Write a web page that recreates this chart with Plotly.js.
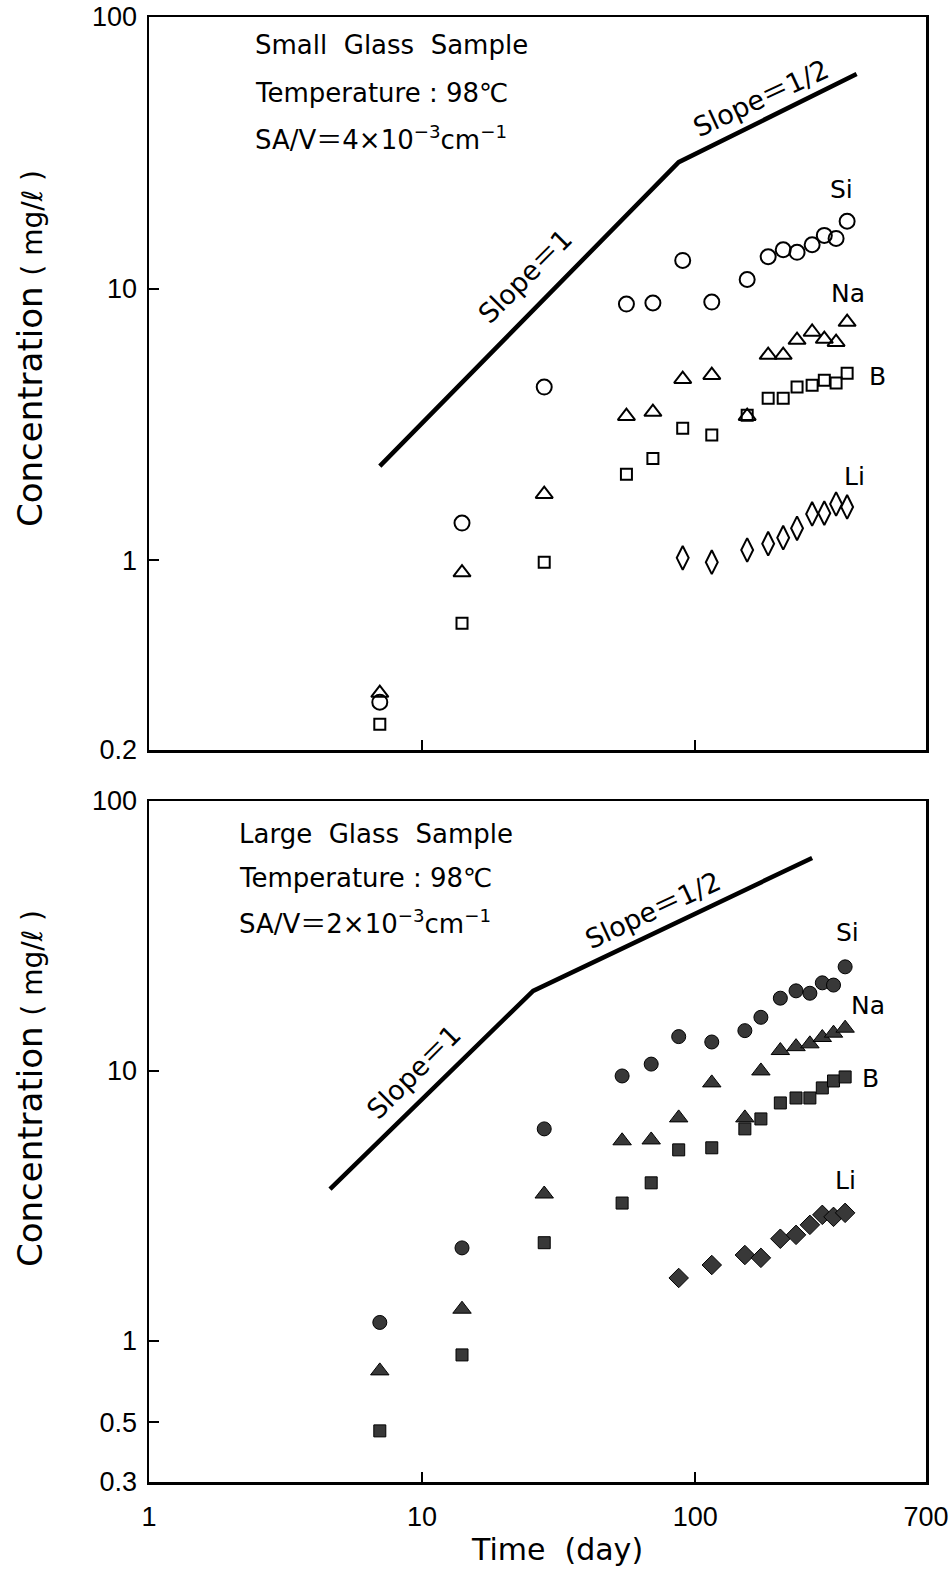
<!DOCTYPE html>
<html>
<head>
<meta charset="utf-8">
<script src="https://cdn.plot.ly/plotly-3.0.1.min.js"></script>
<style>html,body{margin:0;padding:0;background:#fff;}#chart{width:950px;height:1573px;}</style>
</head>
<body>
<div id="chart"></div>
<script>
// ---- Data ----
// Upper panel: small glass sample (open symbols)
const timeSmall = [7, 14, 28, 56, 70, 90, 115, 155, 185, 210, 236, 268, 297, 328, 360];
const siSmall = [0.30, 1.37, 4.34, 8.77, 8.85, 12.7, 8.92, 10.8, 13.1, 13.9, 13.6, 14.5, 15.7, 15.3, 17.7];
const naSmall = [0.324, 0.90, 1.75, 3.39, 3.51, 4.64, 4.80, 3.39, 5.69, 5.69, 6.46, 6.92, 6.52, 6.35, 7.53];
const bSmall  = [0.249, 0.586, 0.983, 2.07, 2.37, 3.06, 2.89, 3.42, 3.95, 3.95, 4.34, 4.41, 4.60, 4.49, 4.88];
const liSmall = [null, null, null, null, null, 1.02, 0.983, 1.09, 1.15, 1.21, 1.31, 1.48, 1.49, 1.61, 1.57];
const slopeSmallT = [7, 87, 390];
const slopeSmallC = [2.22, 29.2, 61.7];

// Lower panel: large glass sample (filled symbols)
const timeLarge = [7, 14, 28, 54, 69, 87, 115, 152, 174, 205, 234, 263, 292, 321, 354];
const siLarge = [1.17, 2.21, 6.10, 9.58, 10.6, 13.4, 12.8, 14.1, 15.8, 18.6, 19.8, 19.4, 21.2, 20.8, 24.3];
const naLarge = [0.774, 1.31, 3.50, 5.51, 5.55, 6.70, 9.03, 6.70, 10.0, 11.9, 12.3, 12.6, 13.3, 13.8, 14.4];
const bLarge  = [0.464, 0.887, 2.31, 3.24, 3.85, 5.10, 5.19, 6.10, 6.64, 7.61, 7.94, 7.94, 8.65, 9.18, 9.50];
const liLarge = [null, null, null, null, null, 1.71, 1.91, 2.08, 2.03, 2.39, 2.47, 2.69, 2.93, 2.88, 2.98];
const slopeLargeT = [4.6, 25.5, 268];
const slopeLargeC = [3.65, 19.8, 61.5];

// Axis ticks
const xTickVals = [1, 10, 100, 700];
const xTickText = ['1', '10', '100', '700'];
const ySmallTickVals = [0.2, 1, 10, 100];
const ySmallTickText = ['0.2', '1', '10', '100'];
const yLargeTickVals = [0.3, 0.5, 1, 10, 100];
const yLargeTickText = ['0.3', '0.5', '1', '10', '100'];

// ---- Styling / layout ----
const W = 950, H = 1573;
const M = {l: 149, r: 24, t: 17, b: 91};
const plotW = W - M.l - M.r, plotH = H - M.t - M.b;
const px = x => (x - M.l) / plotW;           // pixel -> paper (x)
const py = y => (H - M.b - y) / plotH;         // pixel -> paper (y)

const TXT = 'DejaVu Sans, Noto Sans CJK JP, sans-serif';
const TICK = 'Liberation Sans, Arial, sans-serif';

function openTrace(x, y, symbol, size, ax) {
  return {x, y, mode: 'markers', type: 'scatter', xaxis: ax[0], yaxis: ax[1],
    marker: {symbol, size, color: 'black', line: {color: 'black', width: 2}}, hoverinfo: 'skip'};
}
function filledTrace(x, y, symbol, size, ax) {
  return {x, y, mode: 'markers', type: 'scatter', xaxis: ax[0], yaxis: ax[1],
    marker: {symbol, size, color: '#383838', line: {color: '#000', width: 1}}, hoverinfo: 'skip'};
}

const axTop = ['x', 'y'], axBot = ['x2', 'y2'];
const data = [
  {x: slopeSmallT, y: slopeSmallC, mode: 'lines', xaxis: 'x', yaxis: 'y', line: {color: 'black', width: 4.5}, hoverinfo: 'skip'},
  openTrace(timeSmall, siSmall, 'circle-open', 15, axTop),
  openTrace(timeSmall, naSmall, 'triangle-up-open', 15, axTop),
  openTrace(timeSmall, bSmall, 'square-open', 11, axTop),
  openTrace(timeSmall, liSmall, 'diamond-tall-open', 17, axTop),
  {x: slopeLargeT, y: slopeLargeC, mode: 'lines', xaxis: 'x2', yaxis: 'y2', line: {color: 'black', width: 4.5}, hoverinfo: 'skip'},
  filledTrace(timeLarge, siLarge, 'circle', 14, axBot),
  filledTrace(timeLarge, naLarge, 'triangle-up', 16, axBot),
  filledTrace(timeLarge, bLarge, 'square', 12, axBot),
  filledTrace(timeLarge, liLarge, 'diamond', 15, axBot)
];

const axCommon = {
  type: 'log', showline: true, mirror: true, linecolor: 'black', linewidth: 2.5,
  showgrid: false, zeroline: false, ticks: 'inside', ticklen: 10, tickwidth: 2, tickcolor: 'black',
  tickfont: {family: TICK, size: 27, color: 'black'}, tickmode: 'array'
};

const topDomain = [py(750), 1];
const botDomain = [0, py(801)];

const layout = {
  width: W, height: H, margin: M, showlegend: false,
  paper_bgcolor: 'white', plot_bgcolor: 'white',
  xaxis: Object.assign({}, axCommon, {anchor: 'y', range: [0, Math.log10(700)], tickvals: [10, 100], showticklabels: false}),
  yaxis: Object.assign({}, axCommon, {anchor: 'x', domain: topDomain, range: [Math.log10(0.2), 2], tickvals: ySmallTickVals, ticktext: ySmallTickText, ticklabelstandoff: 4}),
  xaxis2: Object.assign({}, axCommon, {anchor: 'y2', range: [0, Math.log10(700)], tickvals: xTickVals, ticktext: xTickText, ticklabelstandoff: 9}),
  yaxis2: Object.assign({}, axCommon, {anchor: 'x2', domain: botDomain, range: [Math.log10(0.3), 2], tickvals: yLargeTickVals, ticktext: yLargeTickText, ticklabelstandoff: 4}),
  annotations: []
};

function txt(text, xp, yp, opts) {
  return Object.assign({text, xref: 'paper', yref: 'paper', x: px(xp), y: py(yp), showarrow: false,
    xanchor: 'center', yanchor: 'middle', font: {family: TXT, size: 25, color: 'black'}}, opts || {});
}
const yTitle = 'Concentration <span style="font-size:28px">( mg/ℓ )</span>';
layout.annotations.push(
  // info blocks
  txt('Small  Glass  Sample', 253, 45, {xanchor: 'left', font: {family: TXT, size: 26, color: 'black'}}),
  txt('Temperature : 98℃', 253, 93, {xanchor: 'left', font: {family: TXT, size: 26, color: 'black'}}),
  txt('SA/V＝4×10<sup>−3</sup>cm<sup>−1</sup>', 253, 138, {xanchor: 'left', font: {family: TXT, size: 26, color: 'black'}}),
  txt('Large  Glass  Sample', 237, 834, {xanchor: 'left', font: {family: TXT, size: 26, color: 'black'}}),
  txt('Temperature : 98℃', 237, 878, {xanchor: 'left', font: {family: TXT, size: 26, color: 'black'}}),
  txt('SA/V＝2×10<sup>−3</sup>cm<sup>−1</sup>', 237, 922, {xanchor: 'left', font: {family: TXT, size: 26, color: 'black'}}),
  // slope labels
  txt('Slope＝1', 525, 277, {textangle: -45, font: {family: TXT, size: 27, color: 'black'}}),
  txt('Slope＝1/2', 760, 98, {textangle: -25, font: {family: TXT, size: 27, color: 'black'}}),
  txt('Slope＝1', 413, 1072, {textangle: -45, font: {family: TXT, size: 27, color: 'black'}}),
  txt('Slope＝1/2', 652, 910, {textangle: -25, font: {family: TXT, size: 27, color: 'black'}}),
  // element labels
  txt('Si', 841, 190), txt('Na', 848, 293), txt('B', 877, 376), txt('Li', 854, 476),
  txt('Si', 847, 933), txt('Na', 868, 1005), txt('B', 870, 1078), txt('Li', 845, 1180),
  // axis titles
  txt(yTitle, 30, 349, {textangle: -90, font: {family: TXT, size: 34, color: 'black'}}),
  txt(yTitle, 30, 1089, {textangle: -90, font: {family: TXT, size: 34, color: 'black'}}),
  txt('Time  (day)', 557, 1550, {font: {family: TXT, size: 30, color: 'black'}})
);

Plotly.newPlot('chart', data, layout, {staticPlot: true, displayModeBar: false});
</script>
</body>
</html>
